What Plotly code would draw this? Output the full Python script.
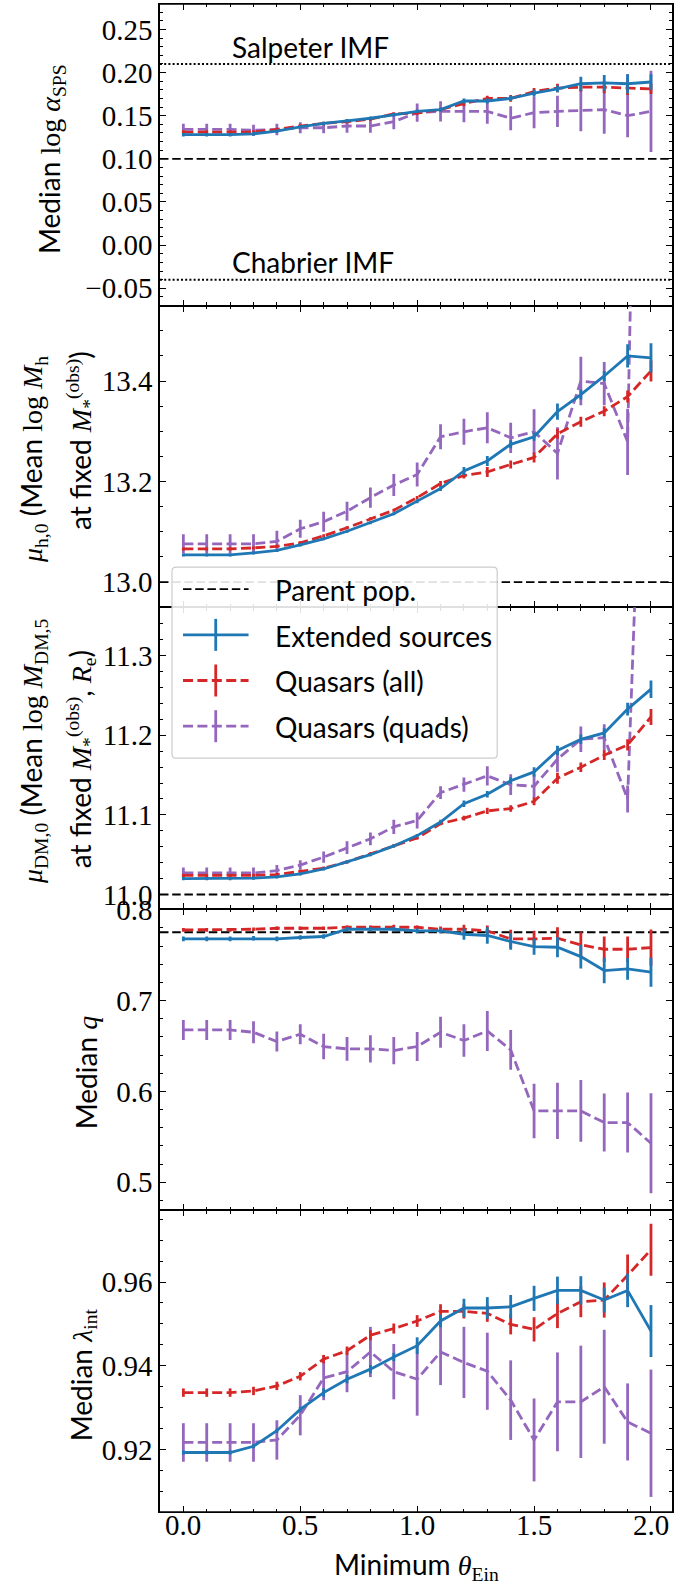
import plotly.graph_objects as go

# ---------------- data ----------------
theta_min = [0.0, 0.1, 0.2, 0.3, 0.4, 0.5, 0.6, 0.7, 0.8, 0.9, 1.0,
             1.1, 1.2, 1.3, 1.4, 1.5, 1.6, 1.7, 1.8, 1.9, 2.0]
x_tick_vals = [0.0, 0.5, 1.0, 1.5, 2.0]
x_tick_text = ["0.0", "0.5", "1.0", "1.5", "2.0"]

# Median log alpha_SPS
alpha_ext = [0.128, 0.128, 0.128, 0.129, 0.132, 0.137, 0.141, 0.144, 0.147, 0.151, 0.155,
             0.157, 0.167, 0.167, 0.170, 0.176, 0.181, 0.187, 0.188, 0.187, 0.189]
alpha_ext_err = [0.002, 0.002, 0.002, 0.002, 0.002, 0.002, 0.002, 0.002, 0.002, 0.002, 0.002,
                 0.0025, 0.003, 0.003, 0.003, 0.004, 0.004, 0.008, 0.009, 0.011, 0.009]
alpha_qso = [0.131, 0.131, 0.131, 0.131, 0.134, 0.138, 0.141, 0.143, 0.146, 0.152, 0.153,
             0.157, 0.164, 0.170, 0.170, 0.178, 0.182, 0.183, 0.183, 0.182, 0.181]
alpha_qso_err = [0.002, 0.002, 0.002, 0.002, 0.002, 0.002, 0.002, 0.002, 0.002, 0.002, 0.002,
                 0.002, 0.003, 0.003, 0.004, 0.004, 0.005, 0.005, 0.007, 0.008, 0.006]
alpha_quad = [0.134, 0.134, 0.134, 0.133, 0.134, 0.136, 0.136, 0.138, 0.138, 0.143, 0.1535,
              0.155, 0.155, 0.155, 0.147, 0.1535, 0.155, 0.156, 0.157, 0.150, 0.155]
alpha_quad_up = [0.0066, 0.0066, 0.0066, 0.0066, 0.0066, 0.0063, 0.0065, 0.0078, 0.0078, 0.0086, 0.0105,
                 0.0117, 0.0125, 0.0145, 0.014, 0.018, 0.018, 0.024, 0.028, 0.048, 0.047]
alpha_quad_dn = [0.0066, 0.0066, 0.0066, 0.0066, 0.0066, 0.0063, 0.0065, 0.0078, 0.0078, 0.0086, 0.0105,
                 0.0117, 0.0125, 0.0145, 0.014, 0.018, 0.018, 0.024, 0.028, 0.025, 0.047]
alpha_parent = 0.10
alpha_salpeter = 0.21
alpha_chabrier = -0.04

# mu_h,0
muh_ext = [13.054, 13.054, 13.054, 13.058, 13.063, 13.074, 13.086, 13.101, 13.118, 13.136, 13.161,
           13.186, 13.221, 13.241, 13.274, 13.289, 13.339, 13.373, 13.410, 13.450, 13.446]
muh_ext_err = [0.003, 0.003, 0.003, 0.003, 0.003, 0.003, 0.003, 0.003, 0.003, 0.003, 0.004,
               0.005, 0.008, 0.010, 0.008, 0.008, 0.016, 0.010, 0.010, 0.023, 0.029]
muh_qso = [13.066, 13.066, 13.066, 13.068, 13.071, 13.078, 13.092, 13.108, 13.126, 13.143, 13.168,
           13.196, 13.212, 13.219, 13.234, 13.248, 13.295, 13.319, 13.340, 13.369, 13.420]
muh_qso_err = [0.003, 0.003, 0.003, 0.003, 0.003, 0.003, 0.003, 0.003, 0.003, 0.003, 0.003,
               0.005, 0.006, 0.010, 0.008, 0.010, 0.010, 0.010, 0.010, 0.012, 0.021]
muh_quad = [13.076, 13.076, 13.076, 13.076, 13.081, 13.106, 13.120, 13.141, 13.168, 13.193, 13.214,
            13.289, 13.299, 13.307, 13.287, 13.299, 13.256, 13.400, 13.395, 13.279, 15.6]
muh_quad_err = [0.019, 0.019, 0.019, 0.019, 0.021, 0.018, 0.020, 0.019, 0.020, 0.022, 0.024,
                0.025, 0.026, 0.031, 0.030, 0.045, 0.052, 0.048, 0.043, 0.066, 0.1]
muh_parent = 13.0

# mu_DM,0
mudm_ext = [11.020, 11.020, 11.020, 11.0205, 11.022, 11.026, 11.032, 11.041, 11.050, 11.061, 11.074,
            11.091, 11.114, 11.126, 11.143, 11.154, 11.181, 11.195, 11.203, 11.233, 11.258]
mudm_ext_err = [0.002, 0.002, 0.002, 0.002, 0.002, 0.002, 0.002, 0.002, 0.002, 0.002, 0.002,
                0.003, 0.004, 0.004, 0.004, 0.006, 0.006, 0.006, 0.006, 0.008, 0.011]
mudm_qso = [11.024, 11.024, 11.024, 11.024, 11.025, 11.029, 11.033, 11.041, 11.051, 11.061, 11.071,
            11.089, 11.096, 11.105, 11.108, 11.117, 11.146, 11.160, 11.175, 11.188, 11.223]
mudm_qso_err = [0.002, 0.002, 0.002, 0.002, 0.002, 0.002, 0.002, 0.002, 0.002, 0.002, 0.002,
                0.002, 0.003, 0.004, 0.004, 0.005, 0.007, 0.006, 0.006, 0.007, 0.010]
mudm_quad = [11.027, 11.027, 11.027, 11.027, 11.030, 11.037, 11.047, 11.059, 11.070, 11.085, 11.093,
             11.128, 11.138, 11.149, 11.138, 11.136, 11.170, 11.195, 11.197, 11.120, 11.93]
mudm_quad_err = [0.007, 0.007, 0.007, 0.007, 0.007, 0.006, 0.007, 0.008, 0.008, 0.009, 0.010,
                 0.008, 0.009, 0.012, 0.013, 0.015, 0.016, 0.016, 0.017, 0.017, 0.05]
mudm_parent = 11.0

# Median q
q_ext = [0.7679, 0.7679, 0.7679, 0.7686, 0.7679, 0.7694, 0.7705, 0.7785, 0.7785, 0.7785, 0.7767,
         0.7767, 0.7730, 0.7716, 0.7650, 0.7594, 0.7587, 0.7484, 0.7330, 0.7349, 0.7312]
q_ext_err = [0.0025, 0.0025, 0.0025, 0.0025, 0.0025, 0.0025, 0.0025, 0.0025, 0.0025, 0.0025, 0.0025,
             0.003, 0.006, 0.009, 0.009, 0.009, 0.011, 0.013, 0.014, 0.012, 0.016]
q_qso = [0.7778, 0.7778, 0.7778, 0.7785, 0.7796, 0.7796, 0.7796, 0.7807, 0.7807, 0.7815, 0.7807,
         0.7785, 0.7785, 0.7767, 0.7679, 0.7679, 0.7686, 0.7613, 0.7565, 0.7565, 0.7583]
q_qso_err = [0.002, 0.002, 0.002, 0.002, 0.002, 0.002, 0.002, 0.002, 0.002, 0.002, 0.002,
             0.003, 0.005, 0.006, 0.010, 0.009, 0.012, 0.014, 0.014, 0.014, 0.020]
q_quad = [0.6677, 0.6677, 0.6677, 0.6651, 0.6549, 0.6629, 0.6494, 0.6468, 0.6468, 0.6450, 0.6494,
          0.6651, 0.6560, 0.6666, 0.6457, 0.5785, 0.5785, 0.5785, 0.5657, 0.5657, 0.5429]
q_quad_err = [0.011, 0.011, 0.011, 0.012, 0.011, 0.011, 0.014, 0.013, 0.015, 0.015, 0.016,
              0.017, 0.018, 0.022, 0.022, 0.030, 0.031, 0.034, 0.032, 0.033, 0.055]
q_parent = 0.7752

# Median lambda_int
lam_ext = [0.9193, 0.9193, 0.9193, 0.9208, 0.9245, 0.9296, 0.9336, 0.9368, 0.9392, 0.9421, 0.9448,
           0.9507, 0.9538, 0.9538, 0.9541, 0.9561, 0.9580, 0.9580, 0.9557, 0.9580, 0.9483]
lam_ext_err = [0.0005, 0.0005, 0.0005, 0.0005, 0.0005, 0.0006, 0.001, 0.001, 0.001, 0.001, 0.002,
               0.0015, 0.0022, 0.0026, 0.0028, 0.003, 0.0033, 0.0034, 0.003, 0.004, 0.0062]
lam_qso = [0.9336, 0.9336, 0.9336, 0.9340, 0.9352, 0.9375, 0.9416, 0.9436, 0.9473, 0.9489, 0.9507,
           0.9530, 0.9530, 0.9525, 0.9499, 0.9487, 0.9525, 0.9553, 0.9557, 0.9616, 0.9677]
lam_qso_err = [0.001, 0.001, 0.001, 0.001, 0.001, 0.001, 0.001, 0.001, 0.0012, 0.0012, 0.0014,
               0.0017, 0.0017, 0.002, 0.0024, 0.0029, 0.0035, 0.0037, 0.0042, 0.005, 0.0062]
lam_quad = [0.9217, 0.9217, 0.9217, 0.9217, 0.9223, 0.9282, 0.9371, 0.9386, 0.9433, 0.9386, 0.9368,
            0.9433, 0.9408, 0.9387, 0.9318, 0.9223, 0.9314, 0.9314, 0.9350, 0.9266, 0.9239]
lam_quad_err = [0.0046, 0.0046, 0.0046, 0.0046, 0.0047, 0.0048, 0.0053, 0.0049, 0.006, 0.0066, 0.0087,
                0.0079, 0.0085, 0.0092, 0.0095, 0.0099, 0.0118, 0.0134, 0.0136, 0.0092, 0.0152]

legend_labels = ["Parent pop.", "Extended sources", "Quasars (all)", "Quasars (quads)"]

# ---------------- styling ----------------
BLUE, RED, PURPLE = "#1f77b4", "#d62728", "#9467bd"
LW = 2.8
DASH = "10px,4.4px"
PARENT_DASH = "8.5px,3.7px"
DOTTED = "2px,2.2px"
SANS = "Lato"
SERIF = "Liberation Serif"
TICK_FONT = dict(family=SERIF, size=29, color="black")
LABEL_FONT = dict(family=SANS, size=28, color="black")

W, H = 683, 1587
PL, PR, PT, PB = 160, 671.7, 4, 1511.6


def px_x(px):
    return (px - PL) / (PR - PL)


def px_y(py):
    return (PB - py) / (PB - PT)


def m(s):
    """Serif span for mathematical symbols."""
    return f"<span style='font-family:{SERIF}'>{s}</span>"


panels = [
    dict(ext=(alpha_ext, alpha_ext_err, alpha_ext_err), qso=(alpha_qso, alpha_qso_err, alpha_qso_err),
         quad=(alpha_quad, alpha_quad_up, alpha_quad_dn), rng=[-0.0701, 0.2794], dtick=0.05,
         minor=0.01, fmt=".2f", tick0=0),
    dict(ext=(muh_ext, muh_ext_err, muh_ext_err), qso=(muh_qso, muh_qso_err, muh_qso_err),
         quad=(muh_quad, muh_quad_err, muh_quad_err), rng=[12.95, 13.55], dtick=0.2,
         minor=0.05, fmt=".1f", tick0=13.0),
    dict(ext=(mudm_ext, mudm_ext_err, mudm_ext_err), qso=(mudm_qso, mudm_qso_err, mudm_qso_err),
         quad=(mudm_quad, mudm_quad_err, mudm_quad_err), rng=[10.982, 11.361], dtick=0.1,
         minor=0.02, fmt=".1f", tick0=11.0),
    dict(ext=(q_ext, q_ext_err, q_ext_err), qso=(q_qso, q_qso_err, q_qso_err),
         quad=(q_quad, q_quad_err, q_quad_err), rng=[0.469, 0.801], dtick=0.1,
         minor=0.02, fmt=".1f", tick0=0.5),
    dict(ext=(lam_ext, lam_ext_err, lam_ext_err), qso=(lam_qso, lam_qso_err, lam_qso_err),
         quad=(lam_quad, lam_quad_err, lam_quad_err), rng=[0.9051, 0.9771], dtick=0.02,
         minor=0.005, fmt=".2f", tick0=0.92),
]

fig = go.Figure()

for i, p in enumerate(panels, start=1):
    xa = "x" if i == 1 else f"x{i}"
    ya = "y" if i == 1 else f"y{i}"
    # purple underneath, blue on top
    for key, color, dash in [("quad", PURPLE, DASH), ("qso", RED, DASH), ("ext", BLUE, "solid")]:
        vals, up, dn = p[key]
        fig.add_trace(go.Scatter(
            x=theta_min, y=vals, xaxis=xa, yaxis=ya, mode="lines",
            line=dict(color=color, width=LW, dash=dash),
            error_y=dict(type="data", symmetric=False, array=up, arrayminus=dn,
                         color=color, thickness=LW, width=0),
            showlegend=False, hoverinfo="skip",
        ))

    dom = [(5 - i) * 0.2, (6 - i) * 0.2]
    axis_common = dict(
        linecolor="black", mirror="allticks", automargin=False,
        ticks="inside", ticklen=6, tickwidth=1.3, tickcolor="black",
        showgrid=False, zeroline=False, tickfont=TICK_FONT,
    )
    fig.update_layout(**{
        ("yaxis" if i == 1 else f"yaxis{i}"): dict(
            domain=dom, range=p["rng"], anchor=xa, tick0=p["tick0"], dtick=p["dtick"],
            tickformat=p["fmt"], showline=True, linewidth=1.5,
            minor=dict(ticks="inside", ticklen=3.5, tickwidth=1.1, tickcolor="black",
                       dtick=p["minor"], tick0=p["tick0"], showgrid=False),
            **axis_common),
        ("xaxis" if i == 1 else f"xaxis{i}"): dict(
            domain=[0, 1], range=[-0.0999, 2.0899], anchor=ya, tickvals=x_tick_vals,
            showticklabels=False, showline=True, linewidth=0.85,
            matches=None if i == 1 else "x",
            minor=dict(ticks="inside", ticklen=3.5, tickwidth=1.1, tickcolor="black",
                       dtick=0.1, tick0=0, showgrid=False),
            **axis_common),
    })

# x tick labels under the bottom panel
for xv, xt in zip(x_tick_vals, x_tick_text):
    fig.add_annotation(x=xv, y=px_y(1525), xref="x5", yref="paper", text=xt,
                       showarrow=False, xanchor="center", yanchor="middle", font=TICK_FONT)

# reference lines
def hline(i, yv, dash, width=1.8):
    xa = "x" if i == 1 else f"x{i}"
    ya = "y" if i == 1 else f"y{i}"
    fig.add_shape(type="line", xref=f"{xa} domain", yref=ya, x0=0, x1=1, y0=yv, y1=yv,
                  line=dict(color="black", width=width, dash=dash), layer="below")


hline(1, alpha_parent, PARENT_DASH)
hline(1, alpha_salpeter, DOTTED, 2.0)
hline(1, alpha_chabrier, DOTTED, 2.0)
hline(2, muh_parent, PARENT_DASH)
hline(3, mudm_parent, PARENT_DASH)
hline(4, q_parent, PARENT_DASH)

# outer top and bottom frame edges
for yv in (0, 1):
    fig.add_shape(type="line", xref="paper", yref="paper", x0=0, x1=1, y0=yv, y1=yv,
                  line=dict(color="black", width=1.6), layer="above")

fig.add_annotation(x=0.2, y=alpha_salpeter + 0.019, xref="x", yref="y", text="Salpeter IMF",
                   showarrow=False, xanchor="left", yanchor="middle", font=LABEL_FONT)
fig.add_annotation(x=0.2, y=alpha_chabrier + 0.0206, xref="x", yref="y", text="Chabrier IMF",
                   showarrow=False, xanchor="left", yanchor="middle", font=LABEL_FONT)

# axis titles
titles = [
    (51, 159, "Median " + m("log <i>α</i><sub>SPS</sub>")),
    (33, 459, m("<i>μ</i><sub>h,0</sub>") + " (Mean " + m("log <i>M</i><sub>h</sub>")),
    (81, 440, "at fixed " + m("<i>M</i><sub>*</sub><sup>(obs)</sup>") + ")"),
    (33, 751, m("<i>μ</i><sub>DM,0</sub>") + " (Mean " + m("log <i>M</i><sub>DM,5</sub>")),
    (81, 759, "at fixed " + m("<i>M</i><sub>*</sub><sup>(obs)</sup>") + ", "
     + m("<i>R</i><sub>e</sub>") + ")"),
    (86, 1072, "Median " + m("<i>q</i>")),
    (83, 1374, "Median " + m("<i>λ</i><sub>int</sub>")),
]
for px, py, txt in titles:
    fig.add_annotation(x=px_x(px), y=px_y(py), xref="paper", yref="paper", text=txt,
                       textangle=-90, showarrow=False, xanchor="center", yanchor="middle",
                       font=LABEL_FONT)

fig.add_annotation(x=px_x(416), y=px_y(1566), xref="paper", yref="paper",
                   text="Minimum " + m("<i>θ</i><sub>Ein</sub>"), showarrow=False,
                   xanchor="center", yanchor="middle", font=LABEL_FONT)

# legend box
L, R, T, B = px_x(172), px_x(497), px_y(567), px_y(758)
rx, ry = 4 / (PR - PL), 4 / (PB - PT)
box = (f"M {L+rx},{B} L {R-rx},{B} Q {R},{B} {R},{B+ry} L {R},{T-ry} Q {R},{T} {R-rx},{T} "
       f"L {L+rx},{T} Q {L},{T} {L},{T-ry} L {L},{B+ry} Q {L},{B} {L+rx},{B} Z")
fig.add_shape(type="path", path=box, xref="paper", yref="paper", layer="above",
              fillcolor="rgba(255,255,255,0.88)", line=dict(color="#cccccc", width=1.2))

rows_y = [589, 634.7, 680.3, 726]
handles = [("black", PARENT_DASH, 1.8, False), (BLUE, "solid", LW, True),
           (RED, DASH, LW, True), (PURPLE, DASH, LW, True)]
for yy, (col, dsh, wid, bar), lab in zip(rows_y, handles, legend_labels):
    fig.add_shape(type="line", xref="paper", yref="paper", layer="above",
                  x0=px_x(183), x1=px_x(248.5), y0=px_y(yy), y1=px_y(yy),
                  line=dict(color=col, width=wid, dash=dsh))
    if bar:
        fig.add_shape(type="line", xref="paper", yref="paper", layer="above",
                      x0=px_x(215.7), x1=px_x(215.7), y0=px_y(yy - 16), y1=px_y(yy + 16),
                      line=dict(color=col, width=LW))
    fig.add_annotation(x=px_x(273), y=px_y(yy + 1), xref="paper", yref="paper", text=lab,
                       showarrow=False, xanchor="left", yanchor="middle", font=LABEL_FONT)

fig.update_layout(
    template="none",
    width=W, height=H,
    margin=dict(l=PL, r=W - PR, t=PT, b=H - PB, pad=0, autoexpand=False),
    paper_bgcolor="white", plot_bgcolor="white",
    showlegend=False,
)

fig.write_html("out.html")
